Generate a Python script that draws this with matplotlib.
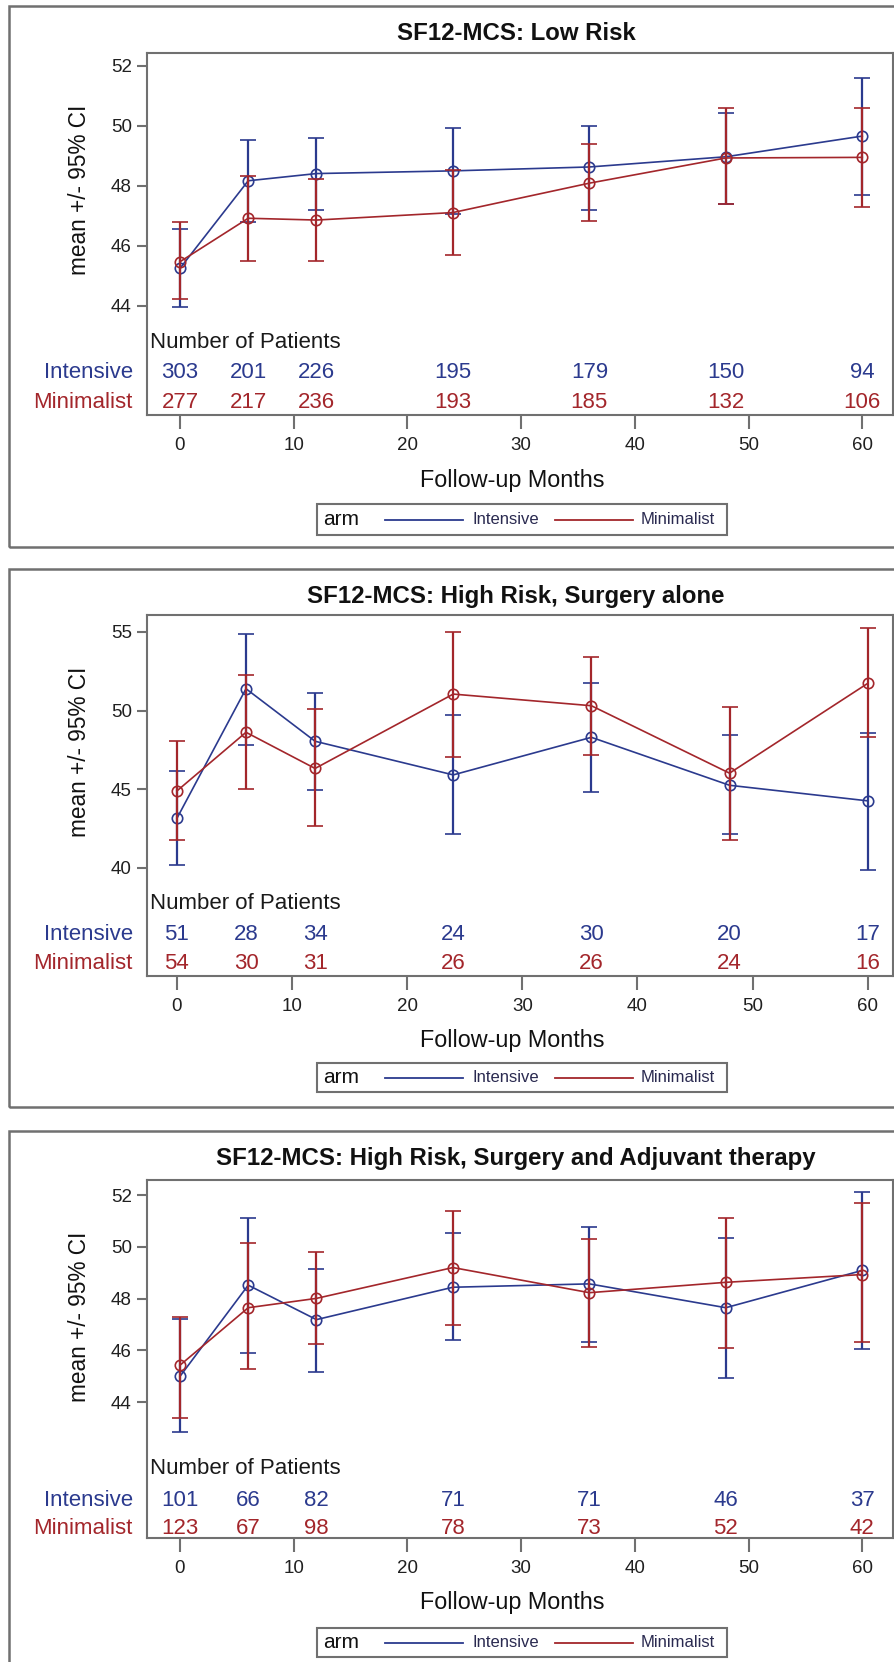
import numpy as np
import matplotlib.pyplot as plt
from matplotlib.patches import Rectangle
from matplotlib.lines import Line2D
from matplotlib.transforms import blended_transform_factory

plt.rcParams['font.family'] = ['Liberation Sans', 'DejaVu Sans']

months = [0, 6, 12, 24, 36, 48, 60]
arm_names = ['Intensive', 'Minimalist']
arm_colors = ['#2B3A8E', '#A3262B']

titles = ['SF12-MCS: Low Risk',
          'SF12-MCS: High Risk, Surgery alone',
          'SF12-MCS: High Risk, Surgery and Adjuvant therapy']

# Low risk
low_int_mean = [45.24, 48.16, 48.40, 48.49, 48.62, 48.96, 49.65]
low_int_lo = [43.96, 46.79, 47.19, 47.06, 47.20, 47.39, 47.69]
low_int_hi = [46.54, 49.53, 49.59, 49.92, 49.99, 50.41, 51.58]
low_min_mean = [45.46, 46.91, 46.85, 47.10, 48.08, 48.92, 48.94]
low_min_lo = [44.22, 45.50, 45.50, 45.68, 46.81, 47.39, 47.28]
low_min_hi = [46.80, 48.32, 48.21, 48.52, 49.40, 50.58, 50.58]
low_n_int = [303, 201, 226, 195, 179, 150, 94]
low_n_min = [277, 217, 236, 193, 185, 132, 106]

# High risk, surgery alone
sa_int_mean = [43.15, 51.39, 48.05, 45.91, 48.30, 45.25, 44.26]
sa_int_lo = [40.16, 47.83, 44.92, 42.14, 44.80, 42.14, 39.89]
sa_int_hi = [46.16, 54.89, 51.10, 49.70, 51.73, 48.46, 48.57]
sa_min_mean = [44.89, 48.62, 46.32, 51.05, 50.31, 46.02, 51.73]
sa_min_lo = [41.78, 45.03, 42.66, 47.06, 47.17, 41.76, 48.30]
sa_min_hi = [48.05, 52.25, 50.08, 55.00, 53.38, 50.22, 55.27]
sa_n_int = [51, 28, 34, 24, 30, 20, 17]
sa_n_min = [54, 30, 31, 26, 26, 24, 16]

# High risk, surgery and adjuvant therapy
adj_int_mean = [45.00, 48.52, 47.19, 48.44, 48.57, 47.65, 49.09]
adj_int_lo = [42.85, 45.92, 45.16, 46.40, 46.32, 44.93, 46.05]
adj_int_hi = [47.20, 51.13, 49.16, 50.53, 50.76, 50.36, 52.13]
adj_min_mean = [45.43, 47.65, 48.01, 49.20, 48.23, 48.63, 48.93]
adj_min_lo = [43.40, 45.27, 46.23, 47.00, 46.12, 46.09, 46.32]
adj_min_hi = [47.29, 50.16, 49.79, 51.37, 50.29, 51.13, 51.69]
adj_n_int = [101, 66, 82, 71, 71, 46, 37]
adj_n_min = [123, 67, 98, 78, 73, 52, 42]

y_ticks = [[44, 46, 48, 50, 52], [40, 45, 50, 55], [44, 46, 48, 50, 52]]

panel_data = [
    ([low_int_mean, low_min_mean], [low_int_lo, low_min_lo], [low_int_hi, low_min_hi], [low_n_int, low_n_min]),
    ([sa_int_mean, sa_min_mean], [sa_int_lo, sa_min_lo], [sa_int_hi, sa_min_hi], [sa_n_int, sa_n_min]),
    ([adj_int_mean, adj_min_mean], [adj_int_lo, adj_min_lo], [adj_int_hi, adj_min_hi], [adj_n_int, adj_n_min]),
]

# layout in pixels (outer box, axes, title, labels, legend)
layout = [
    dict(box=(6, 547), title=33, ax=(53, 415), xlab=480, leg=(504, 535),
         ylim=(40.35, 52.42), xlim=(-2.9, 62.7)),
    dict(box=(569, 1107), title=596, ax=(615, 976), xlab=1040, leg=(1063, 1092),
         ylim=(33.12, 56.08), xlim=(-2.6, 62.2)),
    dict(box=(1131, 1700), title=1158, ax=(1180, 1538), xlab=1603, leg=(1628, 1657),
         ylim=(38.76, 52.58), xlim=(-2.9, 62.7)),
]

W, H = 894, 1662
fig = plt.figure(figsize=(W / 100, H / 100), dpi=100)
fig.patch.set_facecolor('white')

def fx(px):
    return px / W

def fy(py):
    return 1 - py / H

frame_col = '#707070'
ax_left, ax_right = 147, 893

for i, lay in enumerate(layout):
    means, los, his, ns = panel_data[i]
    b0, b1 = lay['box']
    fig.patches.append(Rectangle((fx(9), fy(b1)), fx(910 - 9), (b1 - b0) / H,
                                 transform=fig.transFigure, fill=False,
                                 ec=frame_col, lw=1.8))

    a0, a1 = lay['ax']
    ax = fig.add_axes([fx(ax_left), fy(a1), fx(ax_right - ax_left), (a1 - a0) / H])
    for s in ax.spines.values():
        s.set_color(frame_col)
        s.set_linewidth(1.5)

    for k in range(2):
        m = np.array(means[k])
        err = [m - np.array(los[k]), np.array(his[k]) - m]
        ax.errorbar(months, m, yerr=err, fmt='-o', color=arm_colors[k],
                    mfc='none', mec=arm_colors[k], ms=7.5, mew=1.2, lw=1.2,
                    elinewidth=1.6, capsize=6, capthick=1.6, zorder=3 + k)

    ax.set_xlim(*lay['xlim'])
    ax.set_ylim(*lay['ylim'])
    ax.set_xticks(range(0, 61, 10))
    ax.set_yticks(y_ticks[i])
    ax.tick_params(axis='x', direction='out', length=10, width=1.5, color=frame_col,
                   labelsize=13.5, pad=6, labelcolor='#202020')
    ax.tick_params(axis='y', direction='out', length=7, width=1.5, color=frame_col,
                   labelsize=13.5, pad=4, labelcolor='#202020')

    # at-risk table inside axes
    h = a1 - a0
    trans = blended_transform_factory(ax.transData, ax.transAxes)
    ax.text(0.004, (a1 - (a0 + 289)) / h, 'Number of Patients', transform=ax.transAxes,
            ha='left', va='center', fontsize=16, color='#1a1a1a')
    row_y = [(a1 - (a0 + 320)) / h, (a1 - (a0 + 349)) / h]
    for k in range(2):
        ax.text(-0.019, row_y[k], arm_names[k], transform=ax.transAxes,
                ha='right', va='center', fontsize=16, color=arm_colors[k], clip_on=False)
        for mo, n in zip(months, ns[k]):
            ax.text(mo, row_y[k], str(n), transform=trans, ha='center', va='center',
                    fontsize=16, color=arm_colors[k])

    # title, axis labels
    fig.text(fx((ax_left + ax_right) / 2 - 4), fy(lay['title']), titles[i], ha='center',
             va='center', fontsize=17.3, fontweight='bold', color='#111111')
    fig.text(fx((ax_left + ax_right) / 2 - 8), fy(lay['xlab']), 'Follow-up Months',
             ha='center', va='center', fontsize=16.8, color='#111111')
    fig.text(fx(79), fy(a0 + 136.5), 'mean +/- 95% CI', rotation=90, ha='center',
             va='center', fontsize=16.3, color='#111111')

    # legend
    l0, l1 = lay['leg']
    fig.patches.append(Rectangle((fx(317), fy(l1)), fx(727 - 317), (l1 - l0) / H,
                                 transform=fig.transFigure, fill=False,
                                 ec=frame_col, lw=1.5))
    lc = fy((l0 + l1) / 2)
    fig.text(fx(323), lc, 'arm', ha='left', va='center', fontsize=15, color='#111111')
    fig.lines.append(Line2D([fx(385), fx(463)], [lc, lc], transform=fig.transFigure,
                            color=arm_colors[0], lw=1.3))
    fig.text(fx(473), lc, arm_names[0], ha='left', va='center', fontsize=12, color='#2a2a50')
    fig.lines.append(Line2D([fx(555), fx(633)], [lc, lc], transform=fig.transFigure,
                            color=arm_colors[1], lw=1.3))
    fig.text(fx(641), lc, arm_names[1], ha='left', va='center', fontsize=12, color='#2a2a50')

fig.savefig('out.png', dpi=100)
